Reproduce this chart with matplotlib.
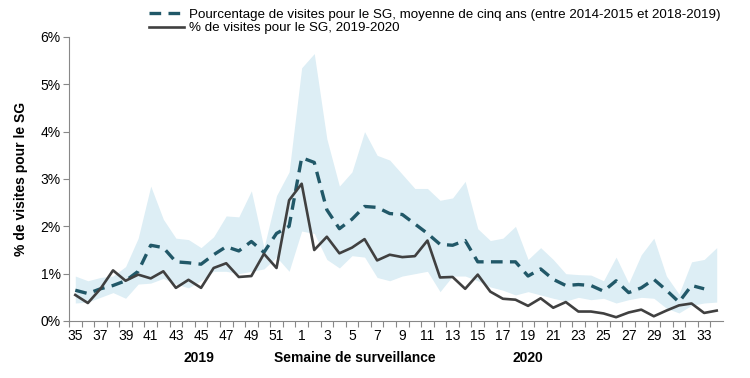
import numpy as np
import matplotlib
matplotlib.use("Agg")
import matplotlib.pyplot as plt
import matplotlib.transforms as mtransforms

plt.rcParams['font.family'] = ['Liberation Sans', 'DejaVu Sans']

weeks = list(range(35, 53)) + list(range(1, 35))

# % de visites pour le SG, 2019-2020
current = [0.55, 0.38, 0.68, 1.07, 0.85, 0.98, 0.90, 1.05, 0.70, 0.87,
           0.70, 1.12, 1.22, 0.93, 0.95, 1.42, 1.12, 2.55,
           2.90, 1.50, 1.78, 1.43, 1.55, 1.73, 1.28, 1.40, 1.35, 1.37,
           1.70, 0.92, 0.93, 0.68, 0.98, 0.62, 0.47, 0.45, 0.32, 0.48,
           0.28, 0.40, 0.20, 0.20, 0.16, 0.08, 0.18, 0.24, 0.10, 0.22,
           0.33, 0.37, 0.17, 0.22]

# moyenne de cinq ans
average = [0.65, 0.58, 0.68, 0.75, 0.85, 1.05, 1.60, 1.55, 1.25, 1.23,
           1.20, 1.40, 1.57, 1.48, 1.68, 1.45, 1.85, 2.00,
           3.45, 3.35, 2.35, 1.95, 2.15, 2.42, 2.40, 2.27, 2.25, 2.05,
           1.85, 1.62, 1.60, 1.70, 1.25, 1.25, 1.25, 1.25, 0.95, 1.10,
           0.88, 0.75, 0.77, 0.75, 0.63, 0.85, 0.60, 0.70, 0.88, 0.65,
           0.40, 0.75, 0.68, np.nan]

# min / max des cinq saisons
upper = [0.95, 0.85, 0.92, 0.95, 1.15, 1.75, 2.85, 2.15, 1.75, 1.72,
         1.55, 1.78, 2.22, 2.20, 2.75, 1.55, 2.65, 3.15,
         5.35, 5.65, 3.85, 2.85, 3.15, 4.00, 3.50, 3.40, 3.10, 2.80,
         2.80, 2.55, 2.60, 2.95, 1.95, 1.70, 1.75, 2.00, 1.30, 1.55,
         1.30, 1.00, 0.98, 0.97, 0.85, 1.35, 0.80, 1.40, 1.75, 0.95,
         0.57, 1.25, 1.30, 1.55]
lower = [0.38, 0.40, 0.50, 0.60, 0.48, 0.78, 0.80, 0.90, 0.78, 0.70,
         0.85, 1.05, 1.05, 1.00, 1.05, 1.10, 1.35, 1.05,
         1.90, 1.85, 1.30, 1.12, 1.38, 1.35, 0.92, 0.85, 0.95, 1.00,
         1.05, 0.62, 0.95, 0.95, 0.85, 0.72, 0.65, 0.55, 0.62, 0.55,
         0.48, 0.42, 0.50, 0.45, 0.48, 0.38, 0.45, 0.50, 0.48, 0.27,
         0.17, 0.33, 0.38, 0.40]

x = np.arange(len(weeks))

fig = plt.figure(figsize=(7.5, 3.78), dpi=100)
ax = fig.add_axes([69 / 750, 1 - 321 / 378, 654 / 750, 284 / 378])

ax.fill_between(x, lower, upper, color='#ddeef5', linewidth=0)
ax.plot(x, average, color='#215868', linewidth=2.4, dashes=(3.5, 2.2),
        label='Pourcentage de visites pour le SG, moyenne de cinq ans (entre 2014-2015 et 2018-2019)')
ax.plot(x, current, color='#404040', linewidth=1.9,
        label='% de visites pour le SG, 2019-2020')

ax.set_xlim(-0.5, len(weeks) - 0.5)
ax.set_ylim(0, 6)
ax.set_yticks(range(0, 7))
ax.set_yticklabels(['{}%'.format(v) for v in range(0, 7)], fontsize=10)
ax.set_xticks(x - 0.5, minor=False)
ax.set_xticklabels([])
ax.set_xticks(x[::2], minor=True)
ax.set_xticklabels([str(w) for w in weeks[::2]], minor=True, fontsize=10)
ax.tick_params(axis='x', which='major', length=4, color='#888888', direction='out')
ax.tick_params(axis='x', which='minor', length=0, pad=6)
ax.tick_params(axis='y', length=4, color='#888888', pad=2)

for side in ['top', 'right']:
    ax.spines[side].set_visible(False)
for side in ['left', 'bottom']:
    ax.spines[side].set_color('#888888')

ax.set_ylabel('% de visites pour le SG', fontsize=10, fontweight='bold')
ax.yaxis.set_label_coords(-0.063, 0.5)

trans = mtransforms.blended_transform_factory(ax.transData, ax.transAxes)
ax.text(9.8, -0.13, '2019', transform=trans, ha='center', va='center',
        fontsize=10, fontweight='bold')
ax.text(22.2, -0.13, 'Semaine de surveillance', transform=trans, ha='center',
        va='center', fontsize=10, fontweight='bold')
ax.text(36.0, -0.13, '2020', transform=trans, ha='center', va='center',
        fontsize=10, fontweight='bold')

fig.legend(loc='upper left', bbox_to_anchor=(140 / 750, 1 + 1 / 378),
           frameon=False, fontsize=9.6, handlelength=2.6, handletextpad=0.4,
           labelspacing=0.1, borderpad=0.2)

fig.savefig('out.png', dpi=100)
